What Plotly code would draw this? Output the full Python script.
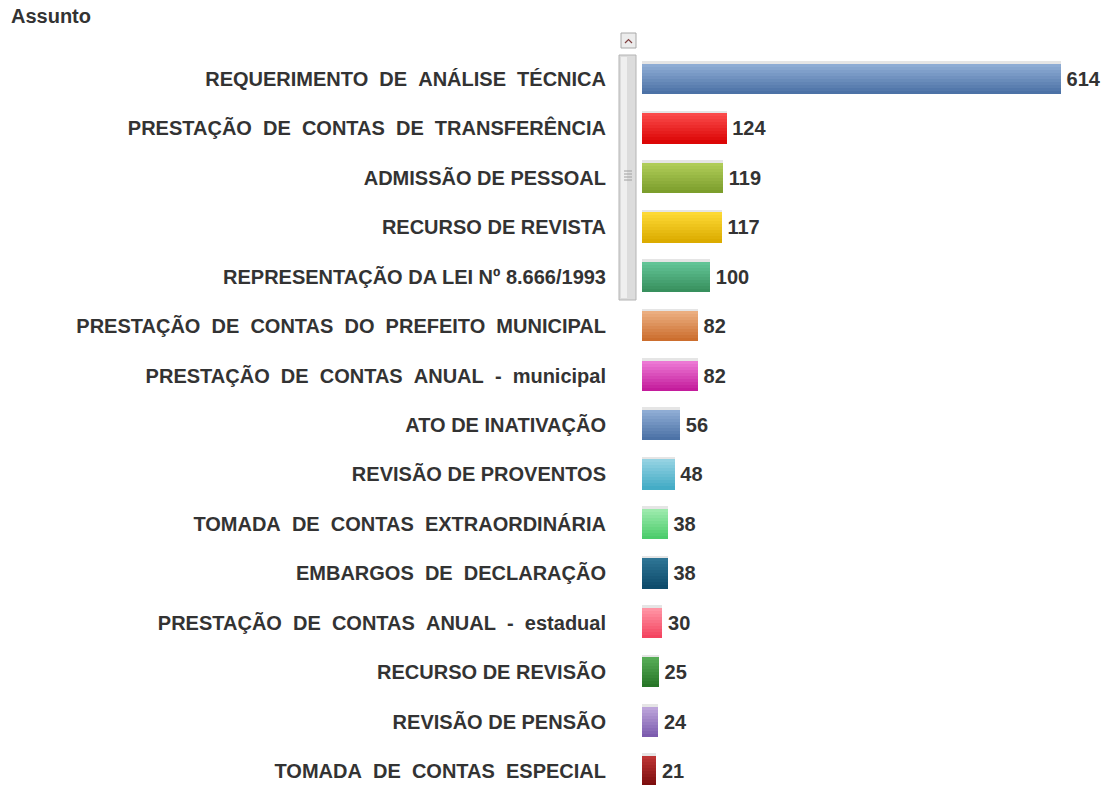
import plotly.graph_objects as go

NB = "\u00a0"
def sp(s):
    return s.replace("  ", NB + NB)

categories = [
    "REQUERIMENTO  DE  ANÁLISE  TÉCNICA",
    "PRESTAÇÃO  DE  CONTAS  DE  TRANSFERÊNCIA",
    "ADMISSÃO DE PESSOAL",
    "RECURSO DE REVISTA",
    "REPRESENTAÇÃO DA LEI Nº 8.666/1993",
    "PRESTAÇÃO  DE  CONTAS  DO  PREFEITO  MUNICIPAL",
    "PRESTAÇÃO  DE  CONTAS  ANUAL  -  municipal",
    "ATO DE INATIVAÇÃO",
    "REVISÃO DE PROVENTOS",
    "TOMADA  DE  CONTAS  EXTRAORDINÁRIA",
    "EMBARGOS  DE  DECLARAÇÃO",
    "PRESTAÇÃO  DE  CONTAS  ANUAL  -  estadual",
    "RECURSO DE REVISÃO",
    "REVISÃO DE PENSÃO",
    "TOMADA  DE  CONTAS  ESPECIAL",
]
values = [614, 124, 119, 117, 100, 82, 82, 56, 48, 38, 38, 30, 25, 24, 21]

top_colors = ["#8eacd4", "#fa4a4a", "#afcc58", "#fdd935", "#62c496", "#ebae80", "#ec78d4",
              "#8eacd4", "#94d2e2", "#9ceaac", "#2e7494", "#ff94a4", "#56ac56", "#bca4da", "#bc3434"]
bot_colors = ["#4c72a6", "#dc0606", "#7c9e2c", "#dcac00", "#38905e", "#cc6e2e", "#c41c9c",
              "#4c72a6", "#44acc6", "#4ccc6c", "#0e4c6c", "#f44460", "#287628", "#7c5cae", "#7c0e0e"]

def hx(c):
    c = c.lstrip("#")
    return [int(c[i:i + 2], 16) for i in (0, 2, 4)]

def mix(a, b, t):
    A, B = hx(a), hx(b)
    return "rgb(%d,%d,%d)" % tuple(round(A[i] + (B[i] - A[i]) * t) for i in range(3))

ypos = list(range(len(categories)))
bw = 0.61
nstrips = 10

fig = go.Figure()

# soft shadow
fig.add_trace(go.Bar(
    y=ypos, x=values, orientation="h", base=0,
    width=bw, offset=-bw / 2 - 0.05,
    marker=dict(color="rgba(0,0,0,0.10)", line=dict(width=0)),
    hoverinfo="skip", showlegend=False,
))

for k in range(nstrips):
    t = k / (nstrips - 1)
    h = bw / nstrips
    fig.add_trace(go.Bar(
        y=ypos, x=values, orientation="h",
        width=h * 1.05, offset=-bw / 2 + k * h,
        marker=dict(color=[mix(a, b, t) for a, b in zip(top_colors, bot_colors)],
                    line=dict(width=0)),
        hoverinfo="skip", showlegend=False,
    ))

FONT = "Liberation Sans, Arial, sans-serif"

fig.add_trace(go.Scatter(
    y=[p + 0.04 for p in ypos], x=values, mode="text",
    text=[NB + "<b>%d</b>" % v for v in values],
    textposition="middle right",
    textfont=dict(family=FONT, size=20, color="#333333"),
    hoverinfo="skip", showlegend=False, cliponaxis=False,
))

# page body has an 8px margin: reference pixel p -> figure pixel p - 8
OFF = 8
W, H = 1114, 785
L, T = 642 - OFF, 54 - OFF
pw, ph = W - L, H - T
scale = (1061 - 642) / 614.0
xmax = pw / scale
row = (771 - 79) / 14.0
span = 14 * ph / (row * 14)
y_a = -25 * span / ph
y_b = y_a + span

def px_x(x):
    return (x - OFF - L) / pw

def px_y(y):
    return (H - (y - OFF)) / ph

shapes = [
    # scrollbar thumb
    dict(type="rect", xref="paper", yref="paper",
         x0=px_x(619), x1=px_x(636), y0=px_y(300), y1=px_y(55),
         fillcolor="#dcdcdc", line=dict(color="#b4b4b4", width=1), layer="above"),
    dict(type="rect", xref="paper", yref="paper",
         x0=px_x(621), x1=px_x(627), y0=px_y(298), y1=px_y(57),
         fillcolor="#efefef", line=dict(width=0), layer="above"),
    # up button
    dict(type="rect", xref="paper", yref="paper",
         x0=px_x(621), x1=px_x(636), y0=px_y(48), y1=px_y(33),
         fillcolor="#ececec", line=dict(color="#a8a8a8", width=1), layer="above"),
    dict(type="path", xref="paper", yref="paper",
         path="M %f,%f L %f,%f L %f,%f" % (px_x(625), px_y(43), px_x(628.5), px_y(39.5),
                                         px_x(632), px_y(43)),
         line=dict(color="#804040", width=1.2), layer="above"),
]
for gy in (171, 174, 177, 180):
    shapes.append(dict(type="line", xref="paper", yref="paper",
                       x0=px_x(624), x1=px_x(632), y0=px_y(gy), y1=px_y(gy),
                       line=dict(color="#a0a0a0", width=1), layer="above"))

fig.update_layout(
    width=W, height=H,
    margin=dict(l=L, r=0, t=T, b=0, pad=0),
    plot_bgcolor="white", paper_bgcolor="white",
    barmode="overlay", bargap=0,
    showlegend=False,
    xaxis=dict(range=[0, xmax], visible=False, fixedrange=True),
    yaxis=dict(
        range=[y_b, y_a],
        tickmode="array", tickvals=ypos, ticktext=[sp(c) for c in categories],
        showgrid=False, zeroline=False, showline=False, ticks="",
        ticklabelstandoff=35,
        tickfont=dict(family=FONT, size=20, color="#333333", weight="bold"),
        fixedrange=True,
    ),
    annotations=[dict(
        text="<b>Assunto</b>", xref="paper", yref="paper",
        x=px_x(9), y=px_y(16), xanchor="left", yanchor="middle", showarrow=False,
        font=dict(family=FONT, size=20, color="#333333"),
    )],
    shapes=shapes,
)

fig.write_html("out.html")
